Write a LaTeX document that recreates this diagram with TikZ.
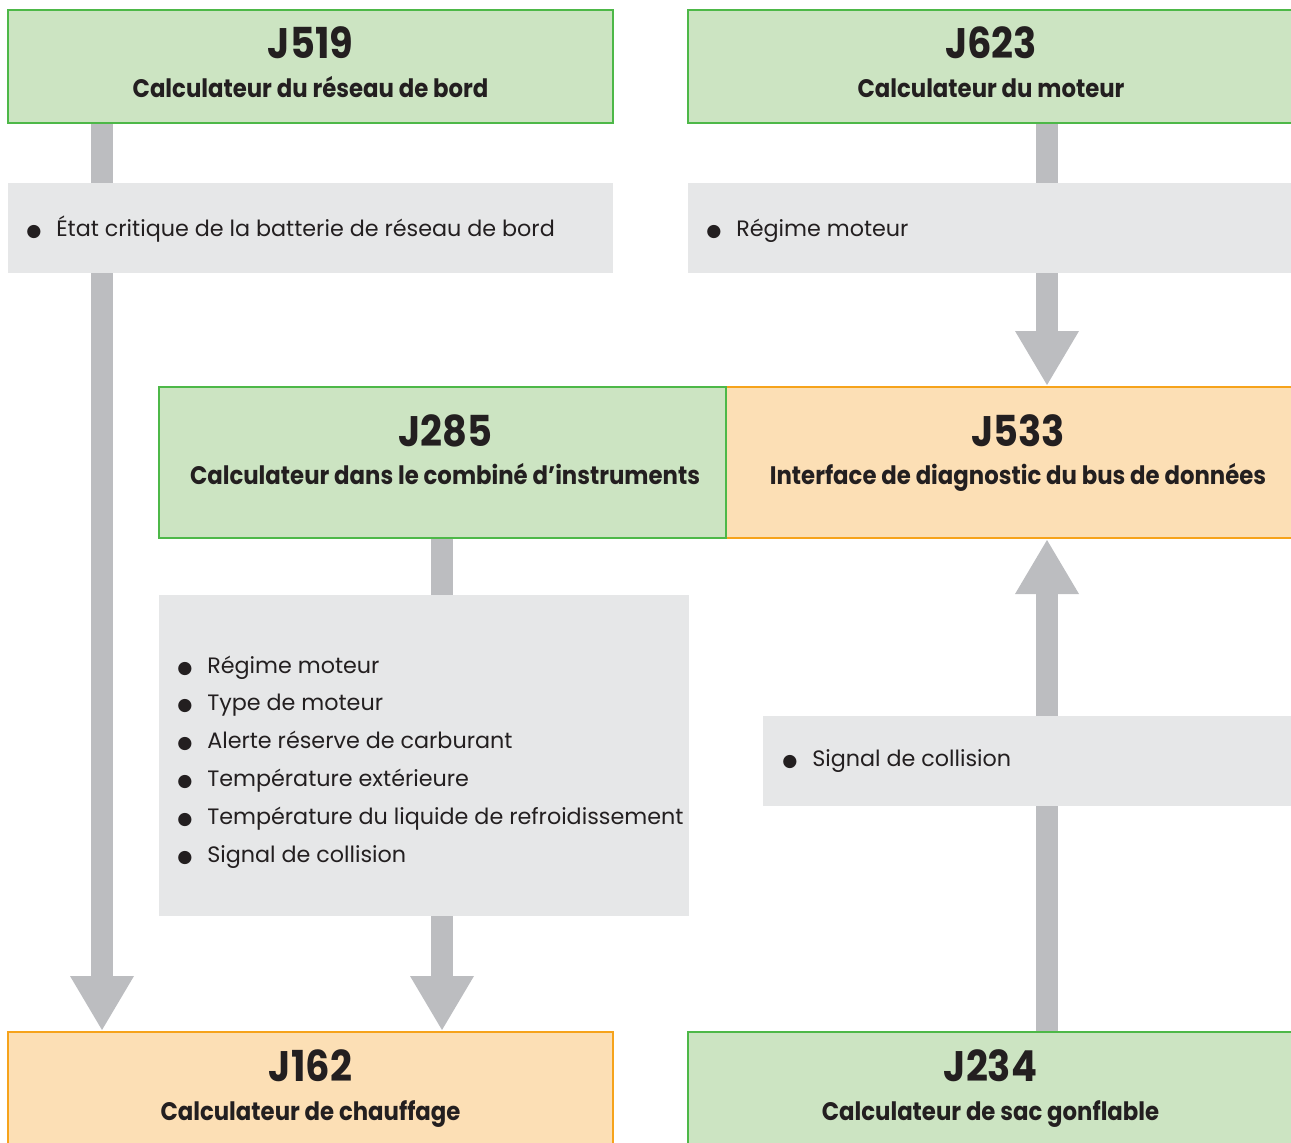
\documentclass[tikz,border=0pt]{standalone}
\usepackage{fontspec}
\setmainfont{Poppins}[BoldFeatures={FakeStretch=0.9}]
\newfontfamily\dejavu{DejaVu Sans}
\usetikzlibrary{arrows.meta,calc}
\pgfdeclarelayer{background}
\pgfsetlayers{background,main}
\definecolor{boxgreen}{HTML}{CCE4C2}
\definecolor{bordergreen}{HTML}{4DB848}
\definecolor{boxorange}{HTML}{FCDFB5}
\definecolor{borderorange}{HTML}{F6A31B}
\definecolor{infogray}{HTML}{E6E7E8}
\definecolor{arrowgray}{HTML}{BCBDC0}
\definecolor{ink}{HTML}{231F20}
\newcommand{\bul}{{\dejavu\fontsize{13pt}{13pt}\selectfont ●}}
\newcommand{\itm}{\makebox[22.5pt][l]{\bul}}
\tikzset{
  unitbox/.style 2 args={draw, line width=1.8pt, anchor=north west, inner sep=0pt, outer sep=0pt,
    minimum width=#1*0.75pt, minimum height=#2*0.75pt},
  greenbox/.style 2 args={unitbox={#1}{#2}, fill=boxgreen, draw=bordergreen},
  orangebox/.style 2 args={unitbox={#1}{#2}, fill=boxorange, draw=borderorange},
  infobox/.style 2 args={anchor=north west, fill=infogray, inner sep=0pt, outer sep=0pt,
    minimum width=#1*0.75pt, minimum height=#2*0.75pt},
  title/.style={anchor=base, inner sep=0pt, text=ink, font=\fontsize{32pt}{32pt}\selectfont\bfseries},
  subtitle/.style={anchor=base, inner sep=0pt, text=ink, font=\fontsize{19pt}{19pt}\selectfont\bfseries},
  body/.style={anchor=base west, inner sep=0pt, text=ink, font=\fontsize{16.7pt}{28.35pt}\selectfont},
  flow/.style={arrowgray, line width=16.5pt, shorten >=1.5pt,
    -{Triangle[width=48pt,length=40.5pt,line width=0pt]}},
}
\begin{document}
\begin{tikzpicture}[x=0.75pt,y=-0.75pt]
\useasboundingbox (0,0) rectangle (1291,1142);
\clip (0,0) rectangle (1291,1142);

% columns for the arrows
\coordinate (colA) at (102,0);
\coordinate (colB) at (442,0);
\coordinate (colC) at (1047,0);

% control units
\node[greenbox={605}{113}] (j519) at (8,10) {};
\node[title] (j519t) at (310.5,58) {J519};
\node[subtitle] (j519s) at (310.5,97) {Calculateur du réseau de bord};

\node[greenbox={606}{113}] (j623) at (688,10) {};
\node[title] (j623t) at (991,58) {J623};
\node[subtitle] (j623s) at (991,97) {Calculateur du moteur};

\node[orangebox={584}{151}] (j533) at (726,387) {};
\node[title] (j533t) at (1018,446) {J533};
\node[subtitle] (j533s) at (1018,484) {Interface de diagnostic du bus de données};

\node[greenbox={567}{151}] (j285) at (159,387) {};
\node[title] (j285t) at (445,446) {J285};
\node[subtitle] (j285s) at (445,484) {Calculateur dans le combiné d’instruments};

\node[orangebox={605}{125}] (j162) at (8,1032) {};
\node[title] (j162t) at (310.5,1081) {J162};
\node[subtitle] (j162s) at (310.5,1120) {Calculateur de chauffage};

\node[greenbox={605}{125}] (j234) at (688,1032) {};
\node[title] (j234t) at (990.5,1081) {J234};
\node[subtitle] (j234s) at (990.5,1120) {Calculateur de sac gonflable};

% information boxes
\node[infobox={605}{90}] (info1) at (8,183) {};
\node[body] (info1t) at (26,236) {\itm État critique de la batterie de réseau de bord};

\node[infobox={610}{90}] (info2) at (688,183) {};
\node[body] (info2t) at (706,236) {\itm Régime moteur};

\node[infobox={530}{321}] (info3) at (159,595) {};
\node[body] (info3t) at (177,673) {\begin{tabular}[t]{@{}l@{}}
\itm Régime moteur\\
\itm Type de moteur\\
\itm Alerte réserve de carburant\\
\itm Température extérieure\\
\itm Température du liquide de refroidissement\\
\itm Signal de collision
\end{tabular}};

\node[infobox={540}{90}] (info4) at (763,716) {};
\node[body] (info4t) at (782,766) {\itm Signal de collision};

% data flow arrows
\begin{pgfonlayer}{background}
\draw[flow] (j519.south -| colA) -- (j162.north -| colA);
\draw[flow] (j285.south -| colB) -- (j162.north -| colB);
\draw[flow] (j623.south -| colC) -- (j533.north -| colC);
\draw[flow] (j234.north -| colC) -- (j533.south -| colC);
\end{pgfonlayer}
\end{tikzpicture}
\end{document}
